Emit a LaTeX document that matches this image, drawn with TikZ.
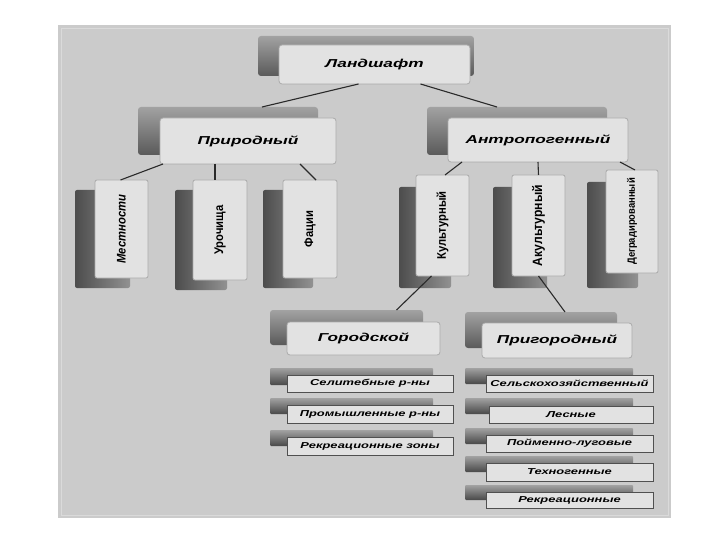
\documentclass[tikz,border=0pt]{standalone}
\usepackage{fontspec}
\setmainfont{Liberation Sans}
\newfontfamily\widefont[FakeStretch=1.5]{Liberation Sans}
\newfontfamily\narrowfont[FakeStretch=0.9]{Liberation Sans}
\usetikzlibrary{calc}
\definecolor{bgc}{HTML}{CBCBCB}
\definecolor{bgline}{HTML}{DADADA}
\definecolor{frontc}{HTML}{E2E2E2}
\definecolor{frontedge}{HTML}{ABABAB}
\definecolor{listedge}{HTML}{505050}
\definecolor{shlight}{HTML}{A2A2A2}
\definecolor{shdark}{HTML}{5A5A5A}
\definecolor{connc}{HTML}{2A2A2A}
\newcommand\placebox[7]{%
  \node[#1,minimum width={(#5)-(#3)},minimum height={(#6)-(#4)}] (#2)
    at ({((#3)+(#5))/2},{((#4)+(#6))/2}) {#7};}
\tikzset{
  basebox/.style={inner sep=0pt,outer sep=0pt,rectangle},
  hshadow/.style={basebox,rounded corners=3pt,top color=shlight,bottom color=shdark},
  vshadow/.style={basebox,rounded corners=2pt,left color=shdark!85!black,right color=shlight!90!black},
  lshadow/.style={basebox,rounded corners=1pt,top color=shlight,bottom color=shdark!80!black},
  bigfront/.style={basebox,rounded corners=3pt,fill=frontc,draw=frontedge,line width=0.8pt,
    font={\widefont\fontsize{11.5}{13}\selectfont\bfseries\itshape}},
  vfront/.style={basebox,rounded corners=2pt,fill=frontc,draw=frontedge,line width=0.8pt},
  listfront/.style={basebox,fill=frontc,draw=listedge,line width=1pt,
    font={\widefont\fontsize{8.6}{10}\selectfont\bfseries\itshape}},
  vtext/.style={rotate=90,inner sep=0pt,font={\narrowfont\fontsize{12.5}{14}\selectfont\bfseries}},
  conn/.style={draw=connc,line width=1.1pt}
}
\begin{document}
\begin{tikzpicture}[x=1pt,y=-1pt]
\useasboundingbox (0,0) rectangle (720,540);
\fill[white] (0,0) rectangle (720,540);
\fill[bgc] (58,25) rectangle (671,518);
\draw[bgline,line width=0.8pt] (61,28) rectangle (668,515);

% shadows
\placebox{hshadow}{sland}{258}{36}{474}{76}{}
\placebox{hshadow}{sprir}{138}{107}{318}{155}{}
\placebox{hshadow}{santr}{427}{107}{607}{155}{}
\placebox{vshadow}{smest}{75}{190}{130}{288}{}
\placebox{vshadow}{suroch}{175}{190}{227}{290}{}
\placebox{vshadow}{sfac}{263}{190}{313}{288}{}
\placebox{vshadow}{skult}{399}{187}{451}{288}{}
\placebox{vshadow}{sakult}{493}{187}{547}{288}{}
\placebox{vshadow}{sdegr}{587}{182}{638}{288}{}
\placebox{hshadow}{sgor}{270}{310}{423}{345}{}
\placebox{hshadow}{spri}{465}{312}{617}{348}{}
\placebox{lshadow}{ssel}{270}{368}{433}{385}{}
\placebox{lshadow}{sprom}{270}{398}{433}{414}{}
\placebox{lshadow}{srekz}{270}{430}{433}{446}{}
\placebox{lshadow}{sselh}{465}{368}{633}{384}{}
\placebox{lshadow}{sles}{465}{398}{633}{414}{}
\placebox{lshadow}{spoim}{465}{428}{633}{444}{}
\placebox{lshadow}{stehn}{465}{456}{633}{472}{}
\placebox{lshadow}{srekr}{465}{485}{633}{500}{}

% front boxes
\placebox{bigfront}{land}{279}{45}{470}{84}{Ландшафт}
\placebox{bigfront}{prir}{160}{118}{336}{164}{Природный}
\placebox{bigfront}{antr}{448}{118}{628}{162}{Антропогенный}
\placebox{vfront}{mest}{95}{180}{148}{278}{}
\placebox{vfront}{uroch}{193}{180}{247}{280}{}
\placebox{vfront}{fac}{283}{180}{337}{278}{}
\placebox{vfront}{kult}{416}{175}{469}{276}{}
\placebox{vfront}{akult}{512}{175}{565}{276}{}
\placebox{vfront}{degr}{606}{170}{658}{273}{}
\node[vtext,font={\narrowfont\fontsize{12.5}{14}\selectfont\bfseries\itshape}] (tmest) at (mest) {Местности};
\node[vtext] (turoch) at (uroch) {Урочища};
\node[vtext] (tfac) at (fac) {Фации};
\node[vtext] (tkult) at (kult) {Культурный};
\node[vtext,font={\narrowfont\fontsize{13.5}{15}\selectfont\bfseries}] (takult) at (akult) {Акультурный};
\node[vtext,font={\narrowfont\fontsize{10.5}{12}\selectfont\bfseries}] (tdegr) at (degr) {Деградированный};
\placebox{bigfront}{gor}{287}{322}{440}{355}{Городской}
\placebox{bigfront}{pri}{482}{323}{632}{358}{Пригородный}
\placebox{listfront}{sel}{287}{375}{453}{392}{Селитебные р-ны}
\placebox{listfront}{prom}{287}{405}{453}{423}{Промышленные р-ны}
\placebox{listfront}{rekz}{287}{437}{453}{455}{Рекреационные зоны}
\placebox{listfront}{selh}{486}{375}{653}{392}{Сельскохозяйственный}
\placebox{listfront}{les}{489}{406}{653}{423}{Лесные}
\placebox{listfront}{poim}{486}{435}{653}{452}{Пойменно-луговые}
\placebox{listfront}{tehn}{486}{463}{653}{481}{Техногенные}
\placebox{listfront}{rekr}{486}{492}{653}{508}{Рекреационные}

% connectors
\draw[conn] ([xshift=-16pt]land.south) -- ([xshift=34pt]sprir.north);
\draw[conn] ([xshift=46pt]land.south) -- ([xshift=-20pt]santr.north);
\draw[conn] ([xshift=-85pt]prir.south) -- ([xshift=-1pt]mest.north);
\draw[conn] ([xshift=-33pt]prir.south) -- ([xshift=-5pt]uroch.north);
\draw[conn] ([xshift=52pt]prir.south) -- ([xshift=6pt]fac.north);
\draw[conn] ([xshift=-76pt]antr.south) -- ([xshift=2.5pt]kult.north);
\draw[conn] (antr.south) -- (akult.north);
\draw[conn] ([xshift=82pt]antr.south) -- ([xshift=3pt]degr.north);
\draw[conn] ([xshift=-11pt]kult.south) -- ([xshift=50pt]sgor.north);
\draw[conn] (akult.south) -- ([xshift=24pt]spri.north);
\end{tikzpicture}
\end{document}
